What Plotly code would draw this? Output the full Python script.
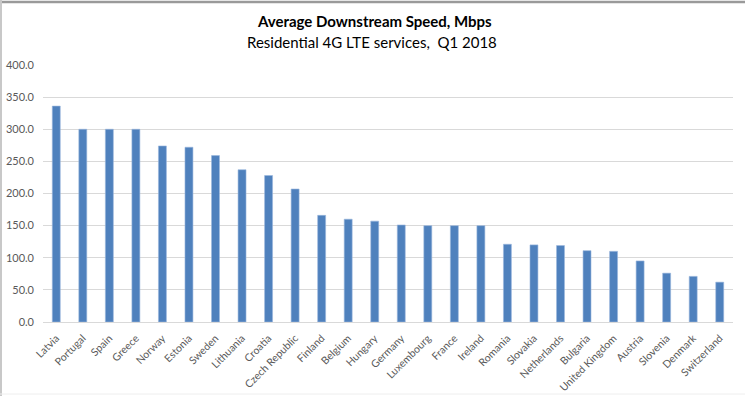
import plotly.graph_objects as go

countries = ["Latvia", "Portugal", "Spain", "Greece", "Norway", "Estonia", "Sweden",
             "Lithuania", "Croatia", "Czech Republic", "Finland", "Belgium", "Hungary",
             "Germany", "Luxembourg", "France", "Ireland", "Romania", "Slovakia",
             "Netherlands", "Bulgaria", "United Kingdom", "Austria", "Slovenia",
             "Denmark", "Switzerland"]
speeds = [336, 300, 300, 300, 274, 272, 259, 237, 228, 207, 166, 160, 157,
          151, 150, 150, 150, 121, 120, 119, 111, 110, 95, 76, 71, 62]
y_ticks = [0, 50, 100, 150, 200, 250, 300, 350, 400]
y_tick_labels = ["0.0", "50.0", "100.0", "150.0", "200.0", "250.0", "300.0", "350.0", "400.0"]

W, H = 745, 396
L, R, T, B = 43, 12, 65, 74
pw, ph = W - L - R, H - T - B

def px_x(px):
    return (px - L) / pw

def px_y(py):
    return (H - B - py) / ph

fig = go.Figure(go.Bar(
    x=countries, y=speeds,
    marker=dict(color="#4F81BD", line=dict(color="#9bb7dd", width=0.6)),
    width=0.3,
))

fig.update_layout(
    width=W, height=H,
    margin=dict(l=L, r=R, t=T, b=B, autoexpand=False),
    paper_bgcolor="white", plot_bgcolor="white",
    font=dict(family="Lato, 'Open Sans', sans-serif", color="#595959"),
    showlegend=False,
    shapes=[
        dict(type="line", xref="paper", yref="paper", x0=px_x(0), x1=px_x(W),
             y0=px_y(2), y1=px_y(2), line=dict(color="#9a9a9a", width=2.5)),
        dict(type="line", xref="paper", yref="paper", x0=px_x(1), x1=px_x(1),
             y0=px_y(0), y1=px_y(H), line=dict(color="#c8c8c8", width=2)),
        dict(type="line", xref="paper", yref="paper", x0=px_x(0), x1=px_x(W),
             y0=px_y(394), y1=px_y(394), line=dict(color="#eeeeee", width=1)),
    ],
)
fig.add_annotation(text="<b>Average Downstream Speed, Mbps</b>", xref="paper", yref="paper",
                   x=px_x(374), y=px_y(21), yanchor="middle", showarrow=False,
                   font=dict(size=15, color="#000000", family="Lato, sans-serif"))
fig.add_annotation(text="Residential 4G LTE services,  Q1 2018", xref="paper", yref="paper",
                   x=px_x(372), y=px_y(42), yanchor="middle", showarrow=False,
                   font=dict(size=15, color="#000000", family="Lato, sans-serif"))

fig.update_xaxes(
    tickangle=-45, tickfont=dict(size=10.5, color="#595959"),
    showline=True, linecolor="#d9d9d9", linewidth=1,
    showgrid=False, ticks="", range=[-0.5, len(countries) - 0.5],
    automargin=False, ticklabelstandoff=5,
)
fig.update_yaxes(
    range=[0, 400], tickvals=y_ticks, ticktext=y_tick_labels,
    tickfont=dict(size=11, color="#595959"),
    showgrid=True, gridcolor="#d9d9d9", gridwidth=1,
    zeroline=False, showline=False, ticks="", automargin=False,
    ticklabelstandoff=8,
)

fig.write_html("out.html", config={"displayModeBar": False},
               post_script="document.body.style.margin='0px';")
